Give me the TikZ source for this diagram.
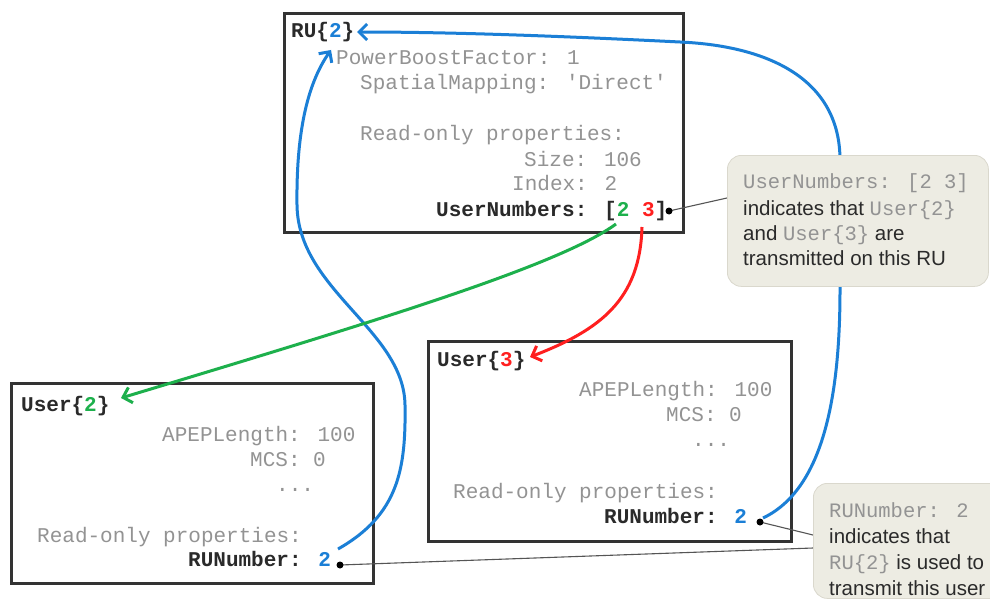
\documentclass[tikz,border=0pt]{standalone}
\usepackage{fontspec}
\setmainfont{Liberation Sans}
\newfontfamily\monof{Liberation Mono}
\usetikzlibrary{arrows.meta}
\definecolor{txtgray}{HTML}{939393}
\definecolor{txtdark}{HTML}{2A2A2A}
\definecolor{ablue}{HTML}{1B7FD6}
\definecolor{agreen}{HTML}{1DB04C}
\definecolor{ared}{HTML}{FF1F1F}
\definecolor{callfill}{HTML}{EDECE3}
\definecolor{calledge}{HTML}{DAD8CD}
\definecolor{boxline}{HTML}{333333}
\definecolor{linkgray}{HTML}{555555}
\newcommand{\cmono}[1]{{\monof\color{txtgray}#1}}
\begin{document}
\begin{tikzpicture}[x=1pt,y=-1pt,
  objbox/.style={draw=boxline,line width=2.6pt,fill=white,inner sep=0pt,anchor=north west},
  prop/.style={anchor=base west,inner sep=0pt,font=\monof\fontsize{21}{25}\selectfont,text=txtgray},
  propb/.style={anchor=base west,inner sep=0pt,font=\monof\bfseries\fontsize{21}{25}\selectfont,text=txtdark},
  note/.style={fill=callfill,draw=calledge,line width=0.8pt,rounded corners=14pt,inner sep=0pt,anchor=north west},
  notetext/.style={anchor=base west,inner sep=0pt,font=\fontsize{20.5}{24}\selectfont,text=txtdark},
  link/.style={draw=linkgray,line width=1.1pt},
  dotm/.style={circle,fill=black,inner sep=0pt,minimum size=7pt},
  arr/.style={line width=3pt,-{Straight Barb[length=8pt,width=16pt]}}
]
\clip (0,0) rectangle (990,607);
\useasboundingbox (0,0) rectangle (990,607);
\fill[white] (0,0) rectangle (990,607);

% boxes
\node[objbox,minimum width=399pt,minimum height=219pt] (rubox) at (283,12) {};
\node[objbox,minimum width=362pt,minimum height=200pt] (u2box) at (10,382) {};
\node[objbox,minimum width=363pt,minimum height=200pt] (u3box) at (427,340) {};

% RU box text
\node[propb] (rutitle) at (291,38) {RU\{{\color{ablue}2}\}};
\node[prop] (pbf) at (336,65) {PowerBoostFactor: 1};
\node[prop] (spm) at (360,90) {SpatialMapping: \textquotesingle Direct\textquotesingle};
\node[prop] (ro1) at (360,140) {Read-only properties:};
\node[prop] (size) at (524,166) {Size: 106};
\node[prop] (idx) at (512,190) {Index: 2};
\node[propb] (unum) at (436,216) {UserNumbers: [{\color{agreen}2} {\color{ared}3}]};

% User{2} box text
\node[propb] (u2title) at (21,411) {User\{{\color{agreen}2}\}};
\node[prop] (u2apep) at (162,441) {APEPLength: 100};
\node[prop] (u2mcs) at (250,466) {MCS: 0};
\node[prop] (u2dots) at (276,491) {...};
\node[prop] (u2ro) at (37,542) {Read-only properties:};
\node[propb] (u2run) at (188,566) {RUNumber: {\color{ablue}2}};

% User{3} box text
\node[propb] (u3title) at (437,366) {User\{{\color{ared}3}\}};
\node[prop] (u3apep) at (579,396) {APEPLength: 100};
\node[prop] (u3mcs) at (666,421) {MCS: 0};
\node[prop] (u3dots) at (692,446) {...};
\node[prop] (u3ro) at (453,498) {Read-only properties:};
\node[propb] (u3run) at (604,523) {RUNumber: {\color{ablue}2}};

% anchor coordinates for connectors
\coordinate (ru2tip) at (357,32);
\coordinate (ru2low) at (331,50);
\coordinate (u2tip) at (121,398);
\coordinate (u3tip) at (530,357);
\coordinate (g2) at (616,224);
\coordinate (r3) at (642,227);
\coordinate (b1s) at (763,518);
\coordinate (b2s) at (338,549);
\coordinate (d1) at (669,211);
\coordinate (d2) at (760,522);
\coordinate (d3) at (340,565);
\coordinate (c1in) at (727,198);
\coordinate (c2a) at (813,535);
\coordinate (c2b) at (813,548);

% arrows
\draw[arr,ablue] (b1s) .. controls (822,490) and (840,400) .. (840,290) -- (840,160)
   .. controls (840,80) and (770,46) .. (680,42) .. controls (560,36) and (450,32) .. (ru2tip);
\draw[arr,ablue] (b2s) .. controls (398,515) and (406,470) .. (405,405)
   .. controls (404,330) and (298,290) .. (297,205) .. controls (296,125) and (310,80) .. (ru2low);
\draw[arr,agreen] (g2) .. controls (560,265) and (380,320) .. (u2tip);
\draw[arr,ared] (r3) .. controls (640,300) and (600,330) .. (u3tip);

% links to notes
\draw[link] (d1) -- (c1in);
\draw[link] (d2) -- (c2a);
\draw[link] (d3) -- (c2b);
\node[dotm] (dot1) at (d1) {};
\node[dotm] (dot2) at (d2) {};
\node[dotm] (dot3) at (d3) {};

% notes
\node[note,minimum width=261pt,minimum height=131pt] (note1) at (727,155) {};
\node[notetext] (n1a) at (743,188) {\cmono{UserNumbers: [2 3]}};
\node[notetext] (n1b) at (743,215) {indicates that \cmono{User\{2\}}};
\node[notetext] (n1c) at (743,240) {and \cmono{User\{3\}} are};
\node[notetext] (n1d) at (743,265) {transmitted on this RU};

\node[note,minimum width=200pt,minimum height=115pt] (note2) at (813,483) {};
\node[notetext] (n2a) at (829,517) {\cmono{RUNumber: 2}};
\node[notetext] (n2b) at (829,543) {indicates that};
\node[notetext] (n2c) at (829,569) {\cmono{RU\{2\}} is used to};
\node[notetext] (n2d) at (829,595) {transmit this user};
\end{tikzpicture}
\end{document}
